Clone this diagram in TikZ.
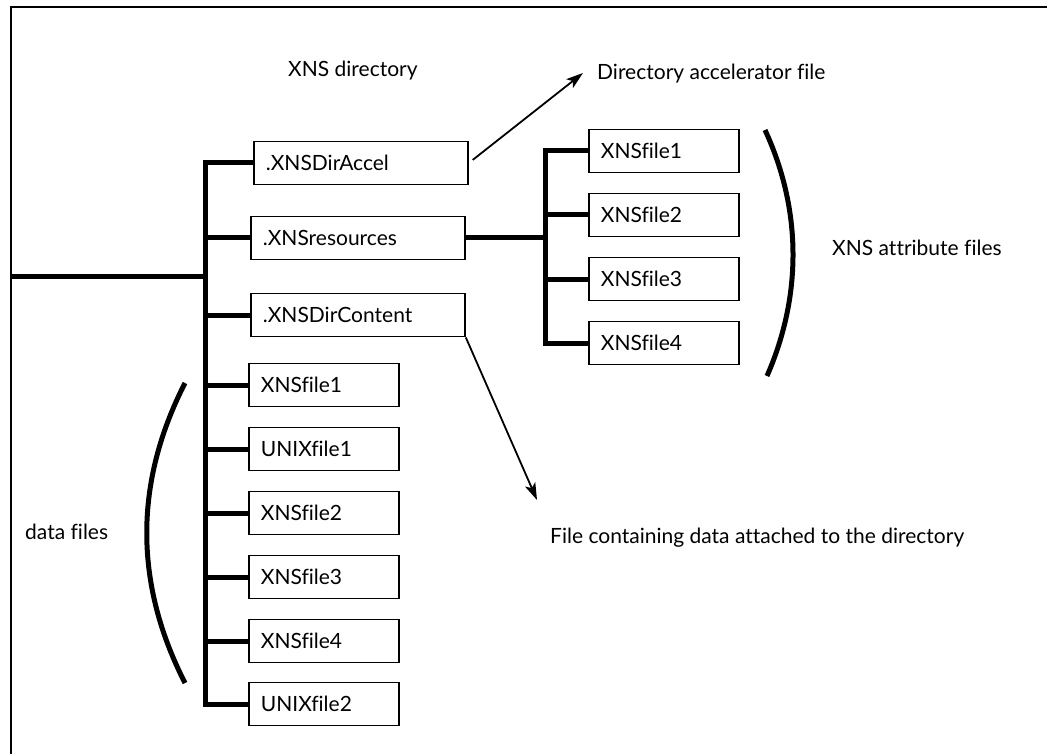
\documentclass[tikz,border=0pt]{standalone}
\usepackage{fontspec}
\setmainfont{Lato}[Ligatures=NoCommon]
\usetikzlibrary{arrows.meta}
\begin{document}
\begin{tikzpicture}[x=1pt,y=-1pt,
  font=\fontsize{21}{25}\selectfont,
  frame/.style={line width=1.8pt},
  filebox/.style={draw, line width=1.8pt, minimum height=43pt, text height=15pt,
    text depth=0pt, inner xsep=12pt, inner ysep=0pt, align=left, anchor=west},
  widebox/.style={filebox, text width=190pt},
  narrowbox/.style={filebox, text width=126pt},
  tree/.style={line width=5pt, line join=miter},
  pointer/.style={line width=1.8pt, -{Stealth[length=17pt,width=11pt,inset=4pt]}},
  brace/.style={line width=5pt},
  lbl/.style={inner sep=0pt, anchor=base west}
]
\useasboundingbox (0,0) rectangle (1047,754);

% open frame: left and top edges only
\draw[frame] (11,754) -- (11,7) -- (1047,7);

% directory entries
\node[widebox] (accel) at (253,163) {.XNSDirAccel};
\node[widebox] (res)   at (250,238) {.XNSresources};
\node[widebox] (cont)  at (250,315) {.XNSDirContent};

\node[narrowbox] (d1) at (248,385) {XNSfile1};
\node[narrowbox] (d2) at (248,449) {UNIXfile1};
\node[narrowbox] (d3) at (248,513) {XNSfile2};
\node[narrowbox] (d4) at (248,577) {XNSfile3};
\node[narrowbox] (d5) at (248,641) {XNSfile4};
\node[narrowbox] (d6) at (248,704) {UNIXfile2};

% attribute files under .XNSresources
\node[narrowbox] (a1) at (588,151) {XNSfile1};
\node[narrowbox] (a2) at (588,215) {XNSfile2};
\node[narrowbox] (a3) at (588,279) {XNSfile3};
\node[narrowbox] (a4) at (588,343) {XNSfile4};

% main trunk
\coordinate (root) at (11,276);
\coordinate (lTop) at (205,163);
\coordinate (lBot) at (205,704);
\draw[tree] (root) -- (root -| lTop);
\draw[tree] (accel.west) -- (lTop) -- (lBot) -- (d6.west);
\foreach \n in {res,cont,d1,d2,d3,d4,d5}
  \draw[tree] (\n.west) -- (\n.west -| lTop);

% resources subtree
\coordinate (rTop) at (545,151);
\draw[tree] (res.east) -- (res.east -| rTop);
\draw[tree] (a1.west) -- (rTop) -- (rTop |- a4.west) -- (a4.west);
\foreach \n in {a2,a3}
  \draw[tree] (\n.west) -- (\n.west -| rTop);

% grouping brackets
\draw[brace] (765,130) .. controls (802,210) and (802,296) .. (767,376);
\draw[brace] (185,383) .. controls (134,483) and (134,583) .. (185,683);

% labels
\node[lbl] (dirname)  at (288,77)  {XNS directory};
\node[lbl] (acclbl)   at (597,80)  {Directory accelerator file};
\node[lbl] (attrlbl)  at (832,255) {XNS attribute files};
\node[lbl] (datalbl)  at (25,539)  {data files};
\node[lbl] (contlbl)  at (550,543) {File containing data attached to the directory};

% pointers
\coordinate (accTip) at (583,73);
\coordinate (contTip) at (537,500);
\draw[pointer, shorten <=5pt] (accel.east) -- (accTip);
\draw[pointer] (cont.south east) -- (contTip);
\end{tikzpicture}
\end{document}
